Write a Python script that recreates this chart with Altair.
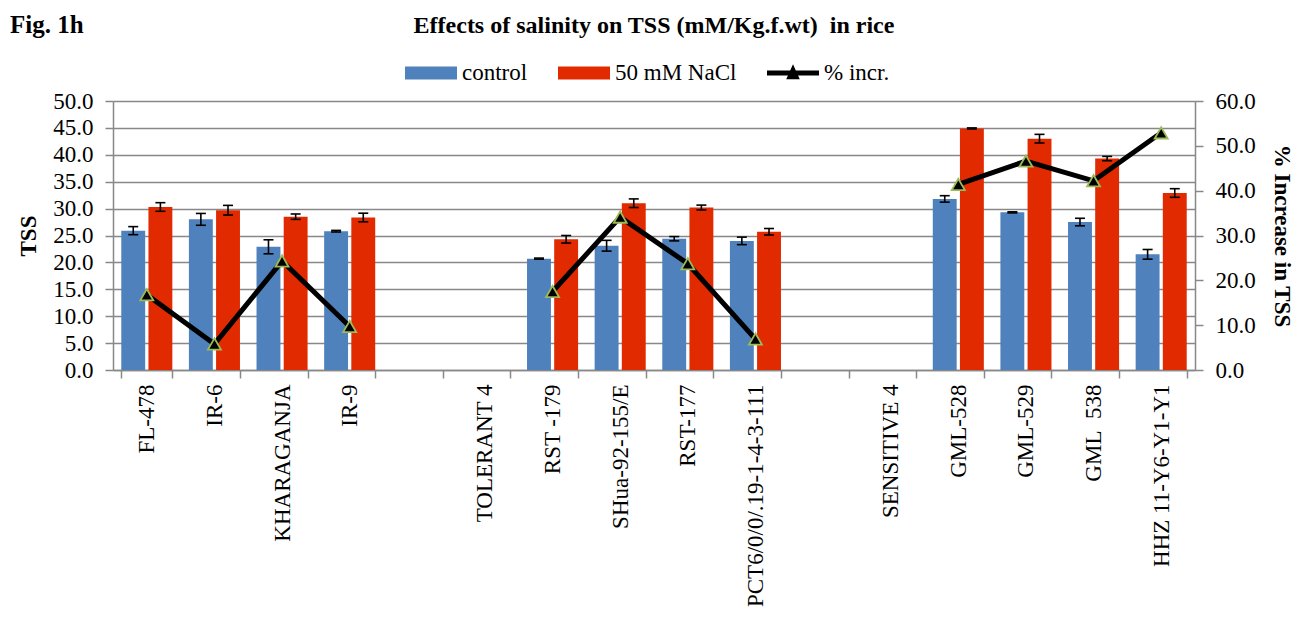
import altair as alt
import pandas as pd

FONT = "Liberation Serif"

fig_label = ["Fig. 1h"]
chart_title = "Effects of salinity on TSS (mM/Kg.f.wt)\u00a0 in rice"

categories = ["FL-478", "IR-6", "KHARAGANJA", "IR-9", " ", "TOLERANT 4",
              "RST -179", "SHua-92-155/E", "RST-177", "PCT6/0/0/.19-1-4-3-111",
              "  ", "SENSITIVE 4", "GML-528", "GML-529", "GML\u00a0\u00a0538", "HHZ 11-Y6-Y1-Y1"]

cultivars = ["FL-478", "IR-6", "KHARAGANJA", "IR-9",
             "RST -179", "SHua-92-155/E", "RST-177", "PCT6/0/0/.19-1-4-3-111",
             "GML-528", "GML-529", "GML\u00a0\u00a0538", "HHZ 11-Y6-Y1-Y1"]
control = [25.9, 28.0, 22.9, 25.8, 20.7, 23.1, 24.4, 24.0, 31.8, 29.3, 27.5, 21.5]
control_err = [0.75, 1.1, 1.3, 0.15, 0.1, 1.0, 0.4, 0.7, 0.6, 0.1, 0.7, 0.9]
nacl = [30.3, 29.7, 28.5, 28.35, 24.3, 31.0, 30.2, 25.7, 44.9, 43.0, 39.3, 32.9]
nacl_err = [0.8, 0.9, 0.5, 0.8, 0.7, 0.8, 0.45, 0.6, 0.1, 0.8, 0.4, 0.8]
pct_incr = [16.8, 5.8, 24.3, 9.7, 17.5, 34.1, 23.7, 6.9, 41.4, 46.6, 42.2, 52.9]
line_group = ["A", "A", "A", "A", "B", "B", "B", "B", "C", "C", "C", "C"]

series_names = ["control", "50 mM NaCl", "% incr."]
series_colors = ["#4F81BD", "#E12A00", "#000000"]
series_shapes = ["M-1,-0.25H1V0.25H-1Z", "M-1,-0.25H1V0.25H-1Z",
                 "M-1,-0.1H1V0.1H-1Z M0,-0.34L0.26,0.24H-0.26Z"]
left_ticks = [0, 5, 10, 15, 20, 25, 30, 35, 40, 45, 50]
right_ticks = [0, 10, 20, 30, 40, 50, 60]

rows = []
for i, c in enumerate(cultivars):
    rows.append(dict(cultivar=c, series="control", value=control[i],
                     lo=control[i] - control_err[i], hi=control[i] + control_err[i]))
    rows.append(dict(cultivar=c, series="50 mM NaCl", value=nacl[i],
                     lo=nacl[i] - nacl_err[i], hi=nacl[i] + nacl_err[i]))
bars_df = pd.DataFrame(rows)
line_df = pd.DataFrame({"cultivar": cultivars, "pct": pct_incr,
                        "group": line_group, "series": "% incr."})
fig_df = pd.DataFrame({"t": fig_label})

GRAY = "#888888"

x_enc = alt.X("cultivar:N",
              scale=alt.Scale(domain=categories, paddingInner=0.245, paddingOuter=0.1225),
              axis=alt.Axis(title=None, labelAngle=270, labelAlign="right", labelBaseline="middle",
                            labelFont=FONT, labelFontSize=23, labelColor="black",
                            tickBand="extent", domainColor=GRAY, tickColor=GRAY,
                            domainWidth=1.5, tickWidth=1.5, tickSize=8, labelPadding=6,
                            grid=False, labelLimit=400))

xoff = alt.XOffset("series:N", scale=alt.Scale(domain=["control", "50 mM NaCl"], paddingInner=0.12))

left_axis = alt.Axis(values=left_ticks, format=".1f", title="TSS", titleFont=FONT,
                     titleFontSize=23, titleFontWeight="bold", titleColor="black",
                     titlePadding=12, labelFont=FONT, labelFontSize=23, labelColor="black",
                     labelPadding=12, tickSize=8, tickColor=GRAY, tickWidth=1.5,
                     domainColor=GRAY, domainWidth=1.5, grid=True, gridColor=GRAY,
                     gridWidth=1.5)
left_scale = alt.Scale(domain=[0, 50], nice=False)

legend_props = dict(title=None, orient="none", legendX=292, legendY=-54,
                    direction="horizontal", symbolSize=2704, labelFont=FONT,
                    labelFontSize=23, labelColor="black", labelOffset=5,
                    columnPadding=30, padding=0, symbolStrokeWidth=0,
                    symbolOpacity=1)

bars = alt.Chart(bars_df).mark_bar(opacity=1).encode(
    x=x_enc, xOffset=xoff,
    y=alt.Y("value:Q", scale=left_scale, axis=left_axis),
    color=alt.Color("series:N", scale=alt.Scale(domain=series_names, range=series_colors),
                    legend=alt.Legend(**legend_props)),
)
err_rule = alt.Chart(bars_df).mark_rule(color="black", strokeWidth=1.6).encode(
    x=x_enc, xOffset=xoff,
    y=alt.Y("lo:Q", scale=left_scale, axis=left_axis), y2="hi:Q",
)
cap_hi = alt.Chart(bars_df).mark_tick(color="black", thickness=1.6, size=10, opacity=1).encode(
    x=x_enc, xOffset=xoff, y=alt.Y("hi:Q", scale=left_scale, axis=left_axis))
cap_lo = alt.Chart(bars_df).mark_tick(color="black", thickness=1.6, size=10, opacity=1).encode(
    x=x_enc, xOffset=xoff, y=alt.Y("lo:Q", scale=left_scale, axis=left_axis))

fig_text = alt.Chart(fig_df).mark_text(font=FONT, fontSize=25, fontWeight="bold",
                                       align="left", baseline="alphabetic", color="black").encode(
    text="t:N", x=alt.value(-103), y=alt.value(-68))

left = alt.layer(bars, err_rule, cap_hi, cap_lo, fig_text)

right_scale = alt.Scale(domain=[0, 60], nice=False)
right_axis = alt.Axis(orient="right", values=right_ticks, format=".1f",
                      title="% Increase in TSS", titleFont=FONT, titleFontSize=23,
                      titleFontWeight="bold", titleColor="black", titlePadding=14,
                      labelFont=FONT, labelFontSize=23, labelColor="black",
                      labelPadding=12, tickSize=8, tickColor=GRAY, tickWidth=1.5,
                      domainColor=GRAY, domainWidth=1.5, grid=False)

line = alt.Chart(line_df).mark_line(color="black", strokeWidth=5).encode(
    x=x_enc, y=alt.Y("pct:Q", scale=right_scale, axis=right_axis), detail="group:N")
pts = alt.Chart(line_df).mark_point(shape="triangle-up", filled=True, fill="black",
                                    stroke="#9BBB59", strokeWidth=1.8, size=170,
                                    opacity=1).encode(
    x=x_enc, y=alt.Y("pct:Q", scale=right_scale, axis=right_axis))
legend_shape = alt.Chart(line_df).mark_point(filled=True, opacity=1).encode(
    shape=alt.Shape("series:N", scale=alt.Scale(domain=series_names, range=series_shapes),
                    legend=alt.Legend(**legend_props))
).transform_filter("false")

right = alt.layer(line, pts, legend_shape)

chart = alt.layer(left, right).resolve_scale(y="independent").properties(
    width=1082, height=269,
    title=alt.Title(chart_title, anchor="middle", font=FONT, fontSize=24,
                    fontWeight="bold", color="black", offset=10, dy=35),
    autosize=alt.AutoSizeParams(type="none"),
    padding={"left": 113, "top": 101, "right": 114, "bottom": 250},
).configure_view(stroke=None).configure(background="white")

chart.save("out.html", embed_options={"renderer": "svg", "actions": False})
